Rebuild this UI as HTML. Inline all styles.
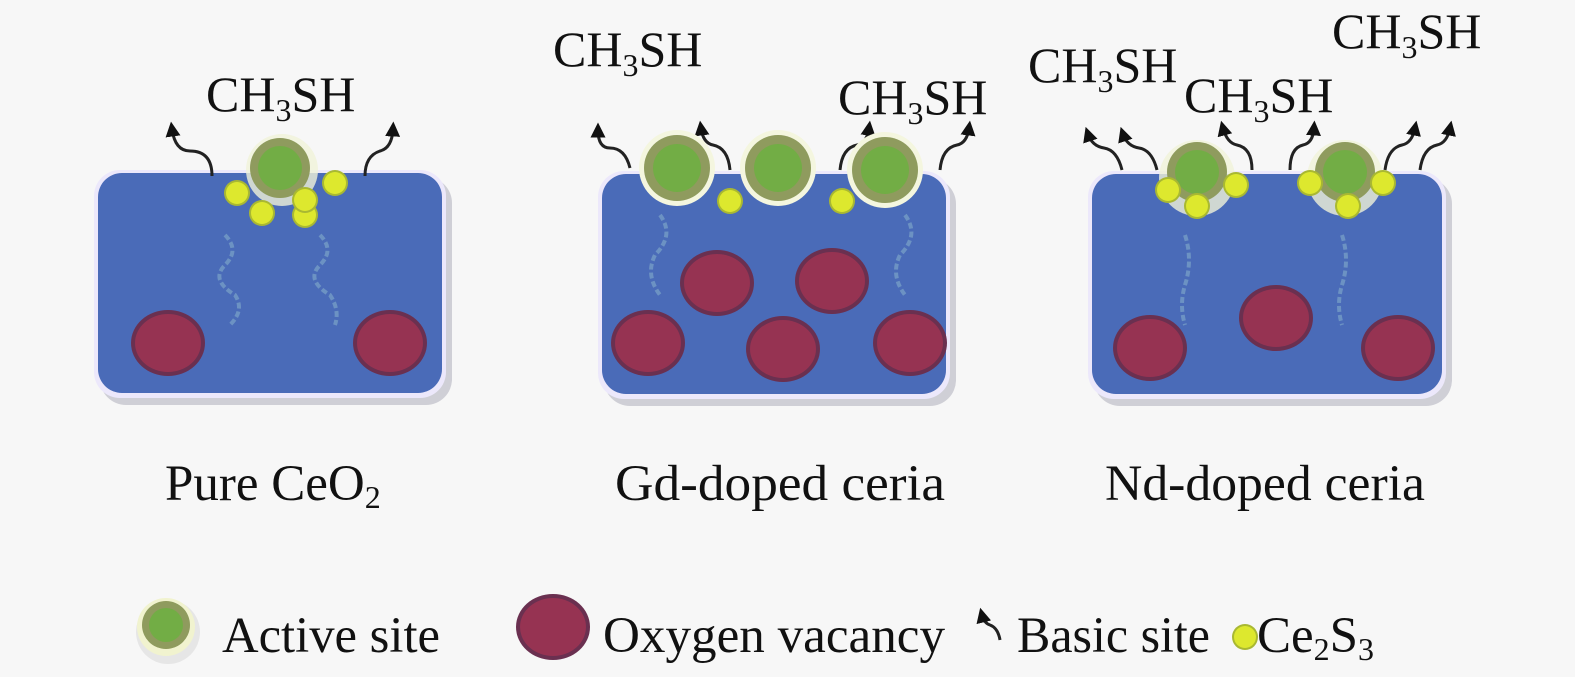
<!DOCTYPE html>
<html><head><meta charset="utf-8"><style>
html,body{margin:0;padding:0;background:#f7f7f7;}
svg{display:block}
text{font-family:"Liberation Serif",serif;fill:#111;}
</style></head><body>
<svg width="1575" height="677" viewBox="0 0 1575 677" xmlns="http://www.w3.org/2000/svg">
<defs>
<marker id="ah" viewBox="0 0 10 10" refX="5" refY="5" markerWidth="5" markerHeight="5" orient="auto-start-reverse"><path d="M0,0 L10,5 L0,10 z" fill="#111"/></marker>
<g id="red"><ellipse rx="37" ry="33" fill="#6a3050"/><ellipse rx="33" ry="29" fill="#963352"/></g>
<g id="act"><circle r="30" fill="#8f9b5e"/><circle r="22" fill="#72ad45"/></g>
<g id="ring"><circle r="38" fill="#f4f6df"/><circle r="33" fill="#8f9b5e"/><circle r="24" fill="#72ad45"/></g>
<g id="y"><circle r="13" fill="#a9b832"/><circle r="11" fill="#dde82e"/></g>
</defs>

<g>
<rect x="100" y="177" width="352" height="228" rx="26" fill="#cfcfd6"/>
<rect x="94" y="170" width="352" height="228" rx="26" fill="#ece8fb"/>
<rect x="98" y="173" width="344" height="220" rx="24" fill="#4a6bb8"/>

<rect x="604" y="178" width="352" height="228" rx="26" fill="#cfcfd6"/>
<rect x="598" y="171" width="352" height="228" rx="26" fill="#ece8fb"/>
<rect x="602" y="174" width="344" height="220" rx="24" fill="#4a6bb8"/>

<rect x="1094" y="178" width="358" height="228" rx="26" fill="#cfcfd6"/>
<rect x="1088" y="171" width="358" height="228" rx="26" fill="#ece8fb"/>
<rect x="1092" y="174" width="350" height="220" rx="24" fill="#4a6bb8"/>
</g>

<g fill="none" stroke="#7aa3c8" stroke-width="4" stroke-dasharray="6 3" opacity="0.7">
<path d="M225,235 q15,15 0,30 q-15,15 10,30 q10,15 -5,30"/>
<path d="M320,235 q15,15 0,30 q-15,15 10,30 q10,15 5,30"/>
<path d="M660,215 q15,20 -5,40 q-10,20 5,40"/>
<path d="M905,215 q15,20 -5,40 q-10,20 5,40"/>
<path d="M1185,235 q8,25 0,50 q-6,20 0,40"/>
<path d="M1342,235 q8,25 0,50 q-6,20 0,40"/>
</g>

<use href="#red" x="168" y="343"/><use href="#red" x="390" y="343"/>
<use href="#red" x="717" y="283"/><use href="#red" x="832" y="281"/>
<use href="#red" x="648" y="343"/><use href="#red" x="783" y="349"/><use href="#red" x="910" y="343"/>
<use href="#red" x="1150" y="348"/><use href="#red" x="1276" y="318"/><use href="#red" x="1398" y="348"/>

<g fill="none" stroke="#222" stroke-width="3" marker-end="url(#ah)">
<path d="M212,176 q0,-25 -22,-25 q-15,0 -18,-22"/>
<path d="M365,176 q0,-20 15,-25 q12,-3 13,-22"/>
<path d="M630,168 q-5,-20 -20,-20 q-12,0 -12,-18"/>
<path d="M730,170 q-2,-22 -17,-25 q-10,-2 -12,-17"/>
<path d="M840,170 q2,-22 17,-25 q10,-2 12,-17"/>
<path d="M940,170 q2,-22 17,-25 q10,-2 12,-17"/>
<path d="M1122,170 q-5,-20 -18,-22 q-12,-2 -16,-14"/>
<path d="M1157,170 q-5,-20 -18,-22 q-12,-2 -16,-14"/>
<path d="M1252,170 q0,-22 -15,-25 q-10,-2 -14,-17"/>
<path d="M1290,170 q0,-22 13,-25 q10,-2 11,-17"/>
<path d="M1385,170 q3,-22 17,-25 q10,-2 13,-17"/>
<path d="M1420,170 q3,-22 17,-25 q10,-2 13,-17"/>
</g>

<circle cx="282" cy="170" r="36" fill="#f0f3d8" opacity="0.8"/>
<use href="#act" x="280" y="168"/>
<use href="#y" x="237" y="193"/><use href="#y" x="262" y="213"/><use href="#y" x="305" y="215"/><use href="#y" x="335" y="183"/><use href="#y" x="305" y="200"/>

<use href="#ring" x="677" y="168"/><use href="#ring" x="778" y="168"/><use href="#ring" x="885" y="170"/>
<use href="#y" x="730" y="201"/><use href="#y" x="842" y="201"/>

<circle cx="1197" cy="178" r="38" fill="#f0f3d8" opacity="0.8"/>
<use href="#act" x="1197" y="172"/>
<use href="#y" x="1168" y="190"/><use href="#y" x="1197" y="206"/><use href="#y" x="1236" y="185"/>
<circle cx="1345" cy="178" r="38" fill="#f0f3d8" opacity="0.8"/>
<use href="#act" x="1345" y="172"/>
<use href="#y" x="1310" y="183"/><use href="#y" x="1348" y="206"/><use href="#y" x="1383" y="183"/>

<g font-size="50">
<text x="206" y="111">CH<tspan font-size="32" dy="10">3</tspan><tspan dy="-10">SH</tspan></text>
<text x="553" y="66">CH<tspan font-size="32" dy="10">3</tspan><tspan dy="-10">SH</tspan></text>
<text x="838" y="114">CH<tspan font-size="32" dy="10">3</tspan><tspan dy="-10">SH</tspan></text>
<text x="1028" y="82">CH<tspan font-size="32" dy="10">3</tspan><tspan dy="-10">SH</tspan></text>
<text x="1184" y="112">CH<tspan font-size="32" dy="10">3</tspan><tspan dy="-10">SH</tspan></text>
<text x="1332" y="48">CH<tspan font-size="32" dy="10">3</tspan><tspan dy="-10">SH</tspan></text>
</g>

<g font-size="51">
<text x="165" y="500">Pure CeO<tspan font-size="32" dy="8">2</tspan></text>
<text x="615" y="500" textLength="330" lengthAdjust="spacingAndGlyphs">Gd-doped ceria</text>
<text x="1105" y="500" textLength="320" lengthAdjust="spacingAndGlyphs">Nd-doped ceria</text>
</g>

<circle cx="168" cy="632" r="32" fill="#e6e6e6"/>
<circle cx="166" cy="627" r="29" fill="#f1f3cf"/>
<circle cx="166" cy="625" r="24" fill="#8f9b5e"/><circle cx="166" cy="625" r="17" fill="#72ad45"/>
<use href="#red" x="553" y="627"/>
<path d="M1000,640 q-2,-12 -10,-15 q-6,-2 -8,-10" fill="none" stroke="#222" stroke-width="3" marker-end="url(#ah)"/>
<use href="#y" x="1245" y="637"/>
<g font-size="51">
<text x="222" y="652" textLength="218" lengthAdjust="spacingAndGlyphs">Active site</text>
<text x="603" y="652" textLength="342" lengthAdjust="spacingAndGlyphs">Oxygen vacancy</text>
<text x="1017" y="652" textLength="193" lengthAdjust="spacingAndGlyphs">Basic site</text>
<text x="1257" y="652">Ce<tspan font-size="32" dy="8">2</tspan><tspan dy="-8">S</tspan><tspan font-size="32" dy="8">3</tspan></text>
</g>
</svg>
</body></html>
